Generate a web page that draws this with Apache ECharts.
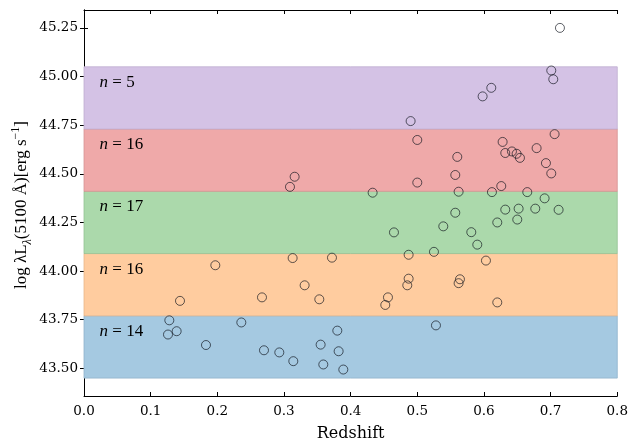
<!DOCTYPE html>
<html>
<head>
<meta charset="utf-8">
<script src="https://cdn.jsdelivr.net/npm/echarts@6/dist/echarts.min.js"></script>
<style>
html, body { margin: 0; padding: 0; background: #fff; }
#chart { width: 631px; height: 447px; }
</style>
</head>
<body>
<div id="chart"></div>
<script>
// data
const redshift = [
    0.128, 0.126, 0.139, 0.183, 0.236, 0.270, 0.293, 0.314, 0.355, 0.359, 0.380, 0.382, 0.389, 0.528,
    0.144, 0.197, 0.267, 0.313, 0.331, 0.353, 0.372, 0.452, 0.456, 0.485, 0.487, 0.487, 0.562, 0.564, 0.603, 0.620,
    0.433, 0.465, 0.525, 0.539, 0.557, 0.562, 0.581, 0.590, 0.612, 0.620, 0.632, 0.650, 0.652, 0.665, 0.677, 0.691, 0.712,
    0.309, 0.316, 0.500, 0.500, 0.557, 0.560, 0.626, 0.628, 0.632, 0.642, 0.649, 0.654, 0.679, 0.693, 0.701, 0.706,
    0.490, 0.598, 0.611, 0.704, 0.701,
    0.714
];
const logL = [
    43.747, 43.674, 43.691, 43.620, 43.736, 43.593, 43.582, 43.537, 43.622, 43.520, 43.694, 43.588, 43.494, 43.721,
    43.847, 44.030, 43.865, 44.067, 43.927, 43.855, 44.069, 43.826, 43.865, 43.927, 43.961, 44.084, 43.938, 43.958, 44.054, 43.839,
    44.403, 44.199, 44.099, 44.230, 44.300, 44.408, 44.200, 44.136, 44.406, 44.250, 44.316, 44.265, 44.321, 44.406, 44.321, 44.374, 44.315,
    44.433, 44.485, 44.455, 44.674, 44.494, 44.587, 44.437, 44.664, 44.607, 44.615, 44.603, 44.582, 44.632, 44.555, 44.502, 44.704,
    44.771, 44.898, 44.942, 44.986, 45.031,
    45.250
];
const bandEdges = [43.45, 43.77, 44.09, 44.41, 44.73, 45.05];
const bandCounts = [14, 16, 17, 16, 5];
const bandColors = ['#a5c9e1', '#ffcc9f', '#abd9ab', '#efa9a9', '#d4c2e5'];
const bandLines = ['#8fb3cc', '#e8b78c', '#95c395', '#d79494', '#bfadd0'];
const yTicks = [43.5, 43.75, 44.0, 44.25, 44.5, 44.75, 45.0, 45.25];

(function() {
    let chartDom = document.getElementById('chart');
    let myChart = echarts.init(chartDom, null, { renderer: 'canvas' });

    let points = redshift.map((x, i) => [x, logL[i]]);
    let bands = bandCounts.map((n, i) => [{
        yAxis: bandEdges[i],
        itemStyle: { color: bandColors[i], borderColor: bandLines[i], borderWidth: 0.8 },
        label: { formatter: '{i|n} = ' + n }
    }, {
        yAxis: bandEdges[i + 1]
    }]);

    const tickFont = { fontFamily: 'DejaVu Serif', fontSize: 13.5, color: '#000' };
    const line = { show: true, lineStyle: { color: '#000', width: 1 } };

    let option = {
        animation: false,
        backgroundColor: '#fff',
        grid: { left: 84, right: 11, top: 10, bottom: 38, containLabel: false },
        xAxis: [{
            type: 'value',
            min: 0,
            max: 0.8,
            interval: 0.1,
            name: 'Redshift',
            nameLocation: 'middle',
            nameGap: 30,
            nameTextStyle: { fontFamily: 'DejaVu Serif', fontSize: 16, color: '#000' },
            axisLine: line,
            axisTick: { inside: true, length: 4, lineStyle: { color: '#000' } },
            axisLabel: Object.assign({ margin: 8, formatter: v => v.toFixed(1) }, tickFont),
            splitLine: { show: false }
        }, {
            type: 'value',
            position: 'top',
            min: 0,
            max: 0.8,
            interval: 0.1,
            axisLine: line,
            axisTick: { inside: true, length: 4, lineStyle: { color: '#000' } },
            axisLabel: { show: false },
            splitLine: { show: false }
        }],
        yAxis: [{
            type: 'value',
            min: 43.358,
            max: 45.342,
            axisLine: line,
            axisTick: { inside: true, length: 4, lineStyle: { color: '#000' }, customValues: yTicks },
            axisLabel: Object.assign({ margin: 6, customValues: yTicks, formatter: v => v.toFixed(2) }, tickFont),
            splitLine: { show: false }
        }, {
            type: 'value',
            position: 'right',
            min: 43.358,
            max: 45.342,
            axisLine: line,
            axisTick: { inside: true, length: 4, lineStyle: { color: '#000' }, customValues: yTicks },
            axisLabel: { show: false },
            splitLine: { show: false }
        }],
        series: [{
            type: 'scatter',
            data: points,
            symbol: 'circle',
            symbolSize: 9,
            itemStyle: {
                color: 'rgba(0,0,0,0)',
                borderColor: 'rgba(10,15,25,0.82)',
                borderWidth: 1
            },
            markArea: {
                silent: true,
                label: {
                    show: true,
                    position: [16, 16],
                    verticalAlign: 'middle',
                    fontFamily: 'Liberation Serif',
                    fontSize: 17,
                    color: '#000',
                    rich: {
                        i: { fontFamily: 'Liberation Serif', fontStyle: 'italic', fontSize: 17, color: '#000' }
                    }
                },
                data: bands
            },
            z: 3
        }],
        graphic: [{
            type: 'text',
            x: 22,
            y: 205,
            rotation: Math.PI / 2,
            style: {
                text: 'log λL{s|λ}(5100 Å)[erg s{p|−1}]',
                fontFamily: 'Liberation Serif',
                fontSize: 17,
                fill: '#000',
                align: 'center',
                verticalAlign: 'middle',
                rich: {
                    s: { fontFamily: 'Liberation Serif', fontStyle: 'italic', fontSize: 12, verticalAlign: 'bottom', lineHeight: 24, fill: '#000' },
                    p: { fontFamily: 'Liberation Serif', fontSize: 12, verticalAlign: 'top', lineHeight: 24, fill: '#000' }
                }
            }
        }]
    };
    myChart.setOption(option);
    window.addEventListener('resize', function() {
        myChart.resize();
    });
})();
</script>
</body>
</html>
